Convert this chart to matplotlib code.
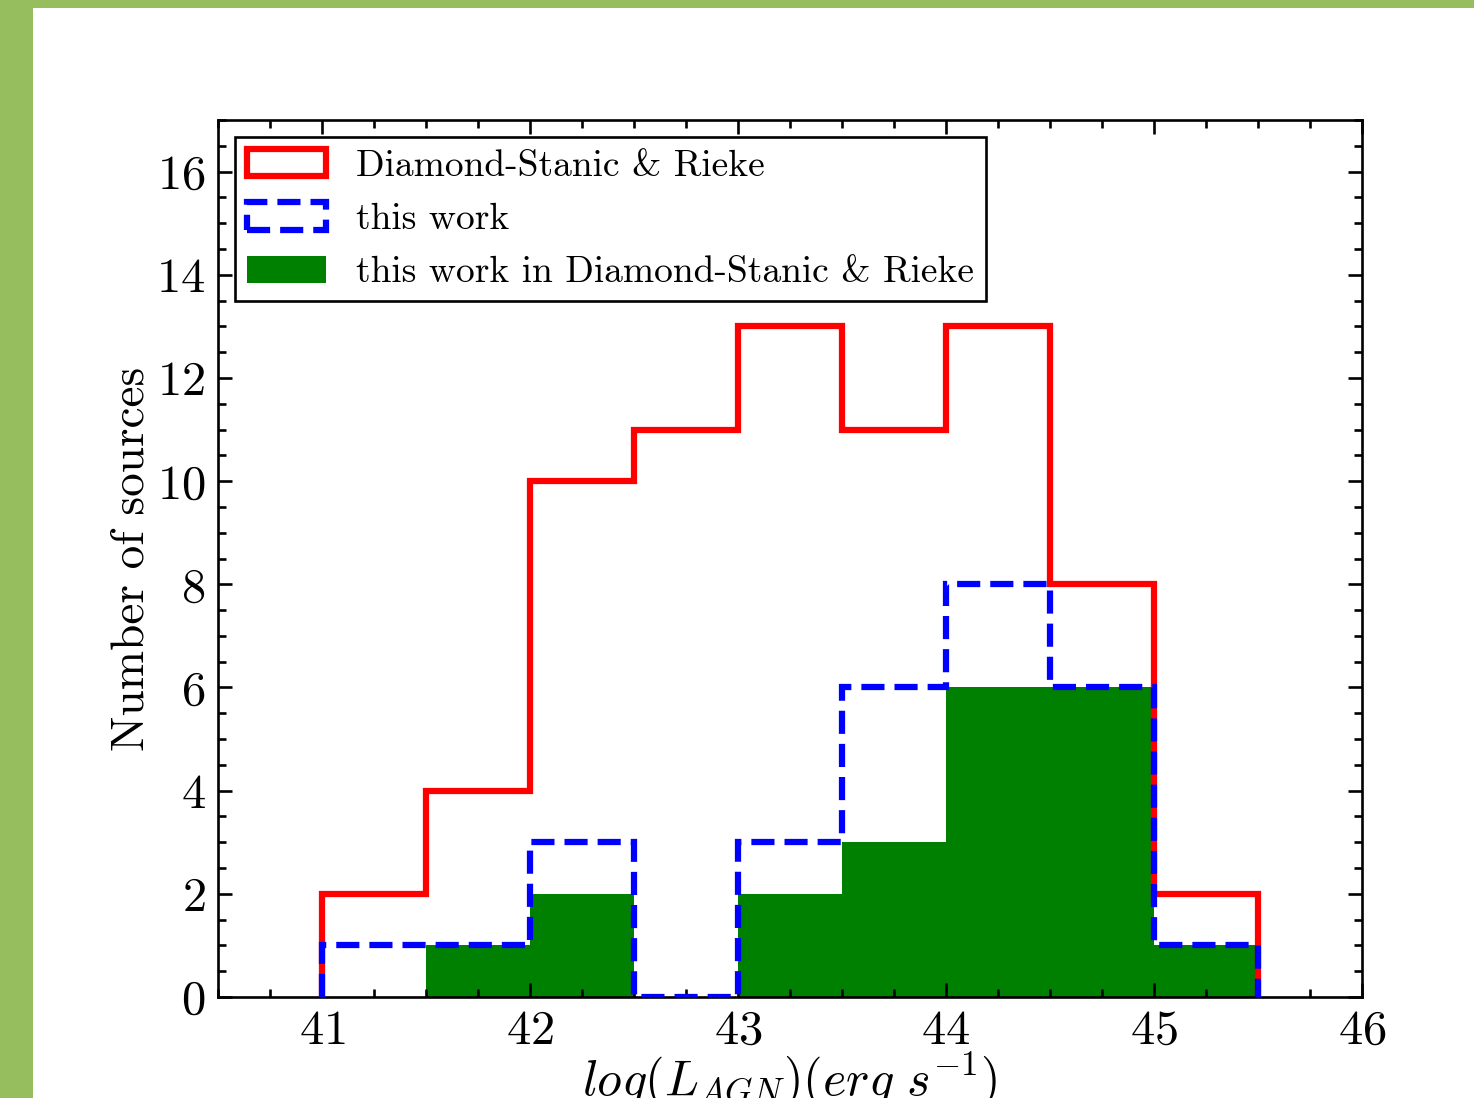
import numpy as np
import matplotlib
matplotlib.use("Agg")
import matplotlib.pyplot as plt
from matplotlib.patches import Rectangle
from matplotlib.ticker import MultipleLocator

plt.rcParams.update({
    "font.family": "serif",
    "font.serif": ["cmr10"],
    "mathtext.fontset": "cm",
    "axes.unicode_minus": False,
    "axes.formatter.use_mathtext": True,
})

# Histogram bins in log luminosity
bin_edges = [41.0, 41.5, 42.0, 42.5, 43.0, 43.5, 44.0, 44.5, 45.0, 45.5]
bin_centers = [41.25, 41.75, 42.25, 42.75, 43.25, 43.75, 44.25, 44.75, 45.25]

# Source counts per bin
counts_ds = [2, 4, 10, 11, 13, 11, 13, 8, 2]
counts_this = [1, 1, 3, 0, 3, 6, 8, 6, 1]
counts_overlap = [0, 1, 2, 0, 2, 3, 6, 6, 1]

label_ds = "Diamond-Stanic & Rieke"
label_this = "this work"
label_overlap = "this work in Diamond-Stanic & Rieke"

fig = plt.figure(figsize=(14.74, 10.98), dpi=100)

# Page frame strips
fig.patches.append(Rectangle((0, 0), 33 / 1474, 1, transform=fig.transFigure,
                             facecolor="#96BE5E", edgecolor="none", zorder=-1))
fig.patches.append(Rectangle((0, 1 - 8 / 1098), 1, 8 / 1098, transform=fig.transFigure,
                             facecolor="#96BE5E", edgecolor="none", zorder=-1))

ax = fig.add_axes([218 / 1474, 1 - 997 / 1098, (1362 - 218) / 1474, (997 - 120) / 1098])

ax.hist(bin_centers, bins=bin_edges, weights=counts_overlap, histtype="stepfilled",
        color="green", edgecolor="none", label=label_overlap, zorder=1)
ax.hist(bin_centers, bins=bin_edges, weights=counts_ds, histtype="step",
        color="red", linewidth=4.5, label=label_ds, zorder=2)
ax.hist(bin_centers, bins=bin_edges, weights=counts_this, histtype="step",
        color="blue", linewidth=4.5, linestyle="--", label=label_this, zorder=3)

ax.set_xlim(40.5, 46)
ax.set_ylim(0, 17)
ax.xaxis.set_major_locator(MultipleLocator(1))
ax.xaxis.set_minor_locator(MultipleLocator(0.25))
ax.yaxis.set_major_locator(MultipleLocator(2))
ax.yaxis.set_minor_locator(MultipleLocator(0.5))
ax.tick_params(which="both", direction="in", top=True, right=True, width=1.9)
ax.tick_params(which="major", length=10, labelsize=35, pad=9)
ax.tick_params(which="minor", length=5.5)
for s in ax.spines.values():
    s.set_linewidth(1.9)

ax.set_xlabel(r"$log(L_{AGN})(erg\ s^{-1})$", fontsize=36, labelpad=-2)
ax.set_ylabel("Number of sources", fontsize=34, labelpad=3)

handles, labels = ax.get_legend_handles_labels()
order = [labels.index(label_ds), labels.index(label_this), labels.index(label_overlap)]
leg = ax.legend([handles[i] for i in order], [labels[i] for i in order],
                loc="upper left", fontsize=27, frameon=True, fancybox=False,
                edgecolor="black", borderaxespad=0.45, handlelength=2.1,
                handleheight=0.75, handletextpad=0.8, labelspacing=0.52,
                borderpad=0.32)
leg.get_frame().set_linewidth(1.9)
leg.get_frame().set_alpha(1)

fig.savefig("out.png", dpi=100)
